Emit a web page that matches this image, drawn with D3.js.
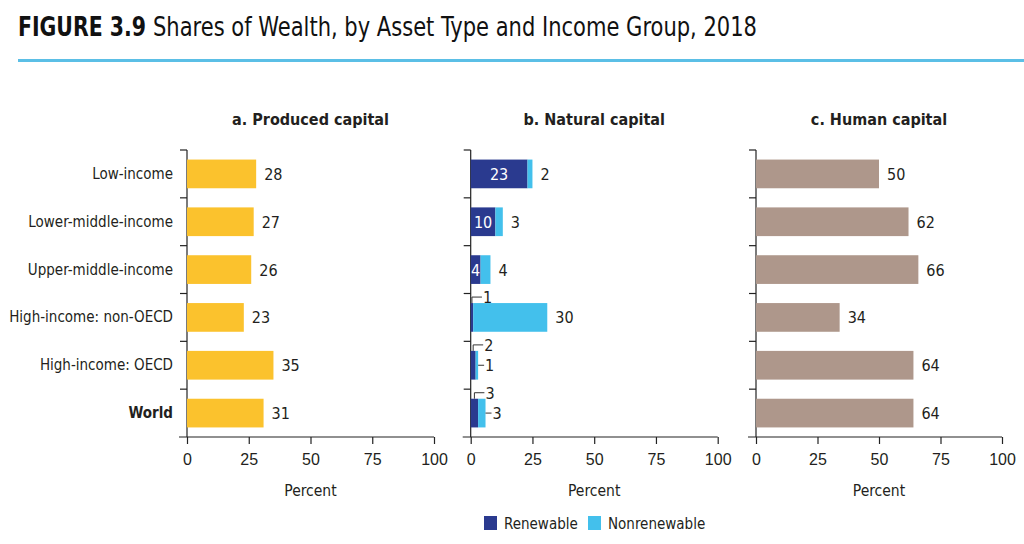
<!DOCTYPE html>
<html><head><meta charset="utf-8">
<script src="https://cdn.jsdelivr.net/npm/d3@7"></script>
<style>
body{margin:0;background:#fff;}
svg{display:block;font-family:'Liberation Sans Narrow','DejaVu Sans Condensed','Roboto Condensed',sans-serif;}
</style></head>
<body><svg id="c" width="1024" height="544"></svg>
<script>
const categories = ["Low-income","Lower-middle-income","Upper-middle-income","High-income: non-OECD","High-income: OECD","World"];
const produced = [28,27,26,23,35,31];
const renewable = [23,10,4,1,2,3];
const nonrenewable = [2,3,4,30,1,3];
const human = [50,62,66,34,64,64];
const xTicks = [0,25,50,75,100];
const panelTitles = ["a. Produced capital","b. Natural capital","c. Human capital"];
const legendLabels = ["Renewable","Nonrenewable"];

const C = {yellow:"#fbc22d", dark:"#2a3a8f", light:"#43c0ec", brown:"#ae978b", text:"#231f20"};
const svg = d3.select("#c");

// Title
svg.append("text").attr("x",18).attr("y",36).attr("font-size",26).attr("fill","#111")
  .attr("font-weight","bold").attr("textLength",128).attr("lengthAdjust","spacingAndGlyphs").text("FIGURE 3.9");
svg.append("text").attr("x",153).attr("y",36).attr("font-size",26).attr("fill","#111")
  .attr("textLength",604).attr("lengthAdjust","spacingAndGlyphs").text("Shares of Wealth, by Asset Type and Income Group, 2018");
svg.append("rect").attr("x",18).attr("y",59).attr("width",1006).attr("height",3).attr("fill","#5bbfe6");

const y = d3.scaleBand().domain(categories).range([150,437]).paddingInner(0.4).paddingOuter(0.2);
const panels = [
  {x0:187, x1:434},
  {x0:470.7, x1:717.7},
  {x0:756, x1:1002}
];

panels.forEach((p,i)=>{
  const x = d3.scaleLinear().domain([0,100]).range([p.x0,p.x1]);
  p.x = x;
  const g = svg.append("g");
  g.append("line").attr("x1",p.x0).attr("x2",p.x0).attr("y1",150).attr("y2",437).attr("stroke","#222").attr("stroke-width",1.2);
  categories.forEach((c,k)=>{
    const yy = 150 + k*y.step();
    g.append("line").attr("x1",p.x0-7).attr("x2",p.x0).attr("y1",yy).attr("y2",yy).attr("stroke","#222").attr("stroke-width",1.2);
  });
  const ax = g.append("g").attr("transform","translate(0,437)")
    .call(d3.axisBottom(x).tickValues(xTicks).tickSize(7).tickPadding(10).tickFormat(d3.format("d")));
  ax.select(".domain").remove();
  ax.selectAll(".tick line").attr("stroke","#222").attr("stroke-width",1.2);
  ax.selectAll(".tick text").attr("font-size",16).attr("fill",C.text).attr("font-family",null);
  g.append("line").attr("x1",p.x0-8).attr("x2",p.x1).attr("y1",437).attr("y2",437).attr("stroke","#222").attr("stroke-width",1.2);
  g.append("text").attr("x",(p.x0+p.x1)/2).attr("y",496).attr("text-anchor","middle").attr("font-size",15.5).attr("fill",C.text).text("Percent");
  g.append("text").attr("x",(p.x0+p.x1)/2).attr("y",125).attr("text-anchor","middle").attr("font-size",16).attr("font-weight","bold").attr("fill",C.text).text(panelTitles[i]);
});

svg.append("g").selectAll("text").data(categories).join("text")
  .attr("x",173).attr("y",d=>y(d)+y.bandwidth()/2+5)
  .attr("text-anchor","end").attr("font-size",15).attr("fill",C.text)
  .attr("font-weight",d=>d==="World"?"bold":"normal").text(d=>d);

function simpleBars(p, vals, color){
  const g = svg.append("g");
  g.selectAll("rect").data(vals).join("rect")
    .attr("x",p.x(0)).attr("y",(d,k)=>y(categories[k]))
    .attr("width",d=>p.x(d)-p.x(0)).attr("height",y.bandwidth()).attr("fill",color);
  g.selectAll("text").data(vals).join("text")
    .attr("x",d=>p.x(d)+8).attr("y",(d,k)=>y(categories[k])+y.bandwidth()/2+6)
    .attr("font-size",16).attr("fill",C.text).text(d=>d);
}
simpleBars(panels[0], produced, C.yellow);
simpleBars(panels[2], human, C.brown);

const pb = panels[1];
const gb = svg.append("g");
categories.forEach((c,k)=>{
  const r = renewable[k], n = nonrenewable[k];
  const yt = y(c), h = y.bandwidth(), ym = yt+h/2;
  gb.append("rect").attr("x",pb.x(0)).attr("y",yt).attr("width",pb.x(r)-pb.x(0)).attr("height",h).attr("fill",C.dark);
  gb.append("rect").attr("x",pb.x(r)).attr("y",yt).attr("width",pb.x(r+n)-pb.x(r)).attr("height",h).attr("fill",C.light);
  const end = pb.x(r+n);
  if (r >= 4) {
    gb.append("text").attr("x",(pb.x(0)+pb.x(r))/2).attr("y",ym+6).attr("text-anchor","middle")
      .attr("font-size",16).attr("fill","#fff").text(r);
  } else {
    const cx = (pb.x(0)+pb.x(r))/2;
    const ly = yt-6;
    gb.append("path").attr("d",`M${cx},${yt}V${ly}H${cx+10}`).attr("fill","none").attr("stroke","#333").attr("stroke-width",1);
    gb.append("text").attr("x",cx+11).attr("y",ly+6).attr("font-size",16).attr("fill",C.text).text(r);
  }
  if (r < 4 && n < 10) {
    gb.append("line").attr("x1",end).attr("x2",end+6).attr("y1",ym).attr("y2",ym).attr("stroke","#333");
    gb.append("text").attr("x",end+7).attr("y",ym+6).attr("font-size",16).attr("fill",C.text).text(n);
  } else {
    gb.append("text").attr("x",end+8).attr("y",ym+6).attr("font-size",16).attr("fill",C.text).text(n);
  }
});

const lg = svg.append("g");
[[484,C.dark],[588,C.light]].forEach((d,i)=>{
  lg.append("rect").attr("x",d[0]).attr("y",516).attr("width",13).attr("height",14).attr("fill",d[1]);
  lg.append("text").attr("x",d[0]+20).attr("y",528.5).attr("font-size",15).attr("fill",C.text).text(legendLabels[i]);
});
</script></body></html>
